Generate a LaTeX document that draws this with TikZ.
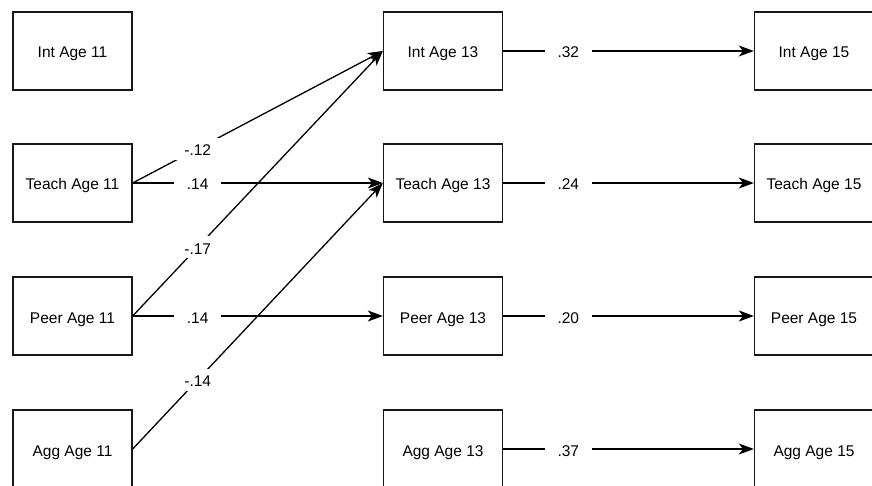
\documentclass[tikz,border=0pt]{standalone}
\usepackage{fontspec}
\setmainfont{Liberation Sans}
\usetikzlibrary{arrows.meta}
\begin{document}
\begin{tikzpicture}[x=1pt,y=-1pt,
  box/.style={draw=black!90, line width=1.3pt, minimum width=119pt, minimum height=78pt, inner sep=0pt, text height=14pt, text depth=0pt, font=\fontsize{15.5}{18}\selectfont},
  conn/.style={draw=black, line width=1.3pt},
  arr/.style={conn, -{Stealth[length=15pt,width=11pt,inset=4pt]}},
  lab/.style={fill=white, inner xsep=13pt, inner ysep=4pt, text height=14pt, text depth=0pt, font=\fontsize{15.5}{18}\selectfont, pos=0.26}
]
\useasboundingbox (0,0) rectangle (872,486);
\clip (0,0) rectangle (872,486);
% left column
\node[box] (i11) at (72.5,51) {Int Age 11};
\node[box] (t11) at (72.5,183) {Teach Age 11};
\node[box] (p11) at (72.5,316) {Peer Age 11};
\node[box] (a11) at (72.5,449) {Agg Age 11};
% middle column
\node[box] (i13) at (443,51) {Int Age 13};
\node[box] (t13) at (443,183) {Teach Age 13};
\node[box] (p13) at (443,316) {Peer Age 13};
\node[box] (a13) at (443,449) {Agg Age 13};
% right column
\node[box] (i15) at (814,51) {Int Age 15};
\node[box] (t15) at (814,183) {Teach Age 15};
\node[box] (p15) at (814,316) {Peer Age 15};
\node[box] (a15) at (814,449) {Agg Age 15};
% left to middle
\draw[arr] (t11.east) -- node[lab] {-.12} (i13.west);
\draw[arr] (t11.east) -- node[lab] {.14} (t13.west);
\draw[arr] (p11.east) -- node[lab] {-.17} (i13.west);
\draw[arr] (p11.east) -- node[lab] {.14} (p13.west);
\draw[arr] (a11.east) -- node[lab] {-.14} (t13.west);
% middle to right
\draw[arr] (i13.east) -- node[lab] {.32} (i15.west);
\draw[arr] (t13.east) -- node[lab] {.24} (t15.west);
\draw[arr] (p13.east) -- node[lab] {.20} (p15.west);
\draw[arr] (a13.east) -- node[lab] {.37} (a15.west);
\end{tikzpicture}
\end{document}
